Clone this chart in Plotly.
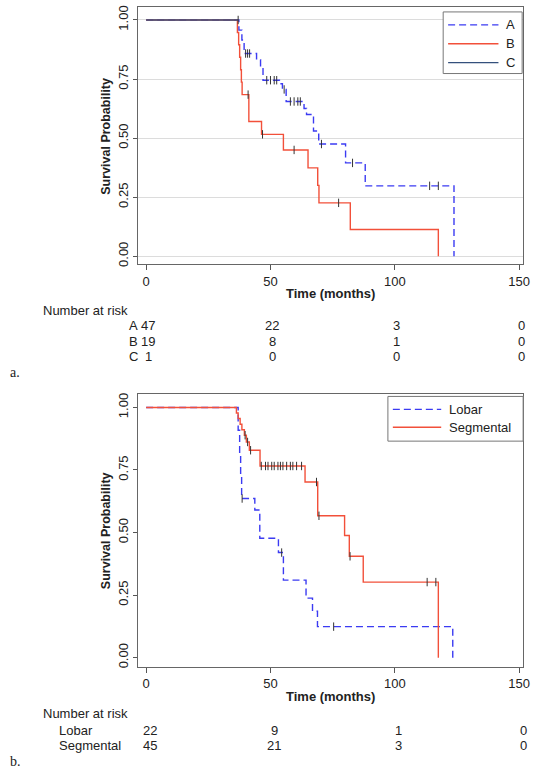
import numpy as np
import plotly.graph_objects as go

# ---------------- Panel a data ----------------
groups_a = ["A", "B", "C"]
a_times = [37.3, 38.5, 39.4, 44.4, 46.0, 47.0, 53.6, 54.8, 56.3, 63.5, 64.5, 67.3, 69.4, 80.2, 88.1, 123.8]
a_surv = [0.957, 0.915, 0.858, 0.832, 0.80, 0.745, 0.73, 0.706, 0.655, 0.625, 0.60, 0.53, 0.475, 0.395, 0.298, 0.0]
a_cens = [40.0, 40.8, 41.6, 48.5, 50.0, 51.5, 52.5, 55.5, 58.0, 59.5, 61.0, 62.0, 70.5, 83.0, 114.0, 117.5]

b_times = [36.7, 37.2, 37.6, 38.0, 38.3, 38.6, 41.3, 46.4, 55.2, 65.1, 69.0, 69.5, 82.1, 117.5]
b_surv = [0.947, 0.895, 0.842, 0.789, 0.737, 0.684, 0.57, 0.516, 0.45, 0.374, 0.30, 0.226, 0.113, 0.0]
b_cens = [41.0, 46.8, 59.5, 77.4]

c_times = []
c_surv = []
c_cens = [37.0]

risk_times = [0, 50, 100, 150]
risk_a = {"A": [47, 22, 3, 0], "B": [19, 8, 1, 0], "C": [1, 0, 0, 0]}

# ---------------- Panel b data ----------------
groups_b = ["Lobar", "Segmental"]
lob_times = [37.0, 37.6, 38.0, 38.4, 43.7, 45.7, 53.2, 55.2, 64.3, 66.9, 68.9, 123.3]
lob_surv = [0.909, 0.818, 0.727, 0.636, 0.59, 0.477, 0.42, 0.31, 0.238, 0.186, 0.124, 0.0]
lob_cens = [38.6, 54.5, 75.4]

seg_times = [36.3, 37.0, 37.8, 38.5, 39.5, 40.3, 41.5, 45.8, 63.9, 69.0, 79.8, 81.7, 87.3, 117.5]
seg_surv = [0.978, 0.956, 0.933, 0.911, 0.889, 0.862, 0.829, 0.766, 0.702, 0.567, 0.488, 0.405, 0.302, 0.0]
seg_cens = [39.8, 40.8, 42.0, 46.3, 48.0, 49.0, 50.5, 51.5, 53.0, 54.0, 55.0, 56.5, 58.0,
            59.0, 60.5, 62.5, 68.5, 69.5, 82.0, 113.0, 116.5]

risk_b = {"Lobar": [22, 9, 1, 0], "Segmental": [45, 21, 3, 0]}

# ---------------- styling ----------------
W, H = 540, 771
BLUE = "#3b3bf2"
RED = "#f2503a"
NAVY = "#34507c"
DASH = "7px,4px"
FONT = "Liberation Sans, Arial, sans-serif"
SERIF = "Liberation Serif, Times New Roman, serif"
TXT = "#222222"


def km_xy(times, surv, cens):
    x = [0.0] + list(times)
    y = [1.0] + list(surv)
    if cens and max(cens) > x[-1]:
        x.append(max(cens))
        y.append(y[-1])
    return x, y


def surv_at(times, surv, t):
    t = np.asarray(t, dtype=float)
    if len(times) == 0:
        return np.ones(len(t))
    t_arr = np.asarray(times, dtype=float)
    s_arr = np.asarray(surv, dtype=float)
    idx = np.searchsorted(t_arr, t, side="right") - 1
    return np.where(idx >= 0, s_arr[np.clip(idx, 0, None)], 1.0)


fig = go.Figure()
legend_items = {"a": [], "b": []}


def add_group(name, times, surv, cens, color, dash, xa, ya, panel):
    x, y = km_xy(times, surv, cens)
    fig.add_trace(go.Scatter(
        x=x, y=y, mode="lines", name=name, line_shape="hv", showlegend=False,
        line=dict(color=color, width=1.4, dash=dash), xaxis=xa, yaxis=ya))
    if cens:
        cy = surv_at(times, surv, cens)
        fig.add_trace(go.Scatter(
            x=cens, y=cy, mode="markers", showlegend=False, hoverinfo="skip",
            marker=dict(symbol="line-ns", size=6, line=dict(width=1, color="#333333")),
            xaxis=xa, yaxis=ya))
    legend_items[panel].append((name, color, dash))


add_group("A", a_times, a_surv, a_cens, BLUE, DASH, "x", "y", "a")
add_group("B", b_times, b_surv, b_cens, RED, "solid", "x", "y", "a")
add_group("C", c_times, c_surv, c_cens, NAVY, "solid", "x", "y", "a")
add_group("Lobar", lob_times, lob_surv, lob_cens, BLUE, DASH, "x2", "y2", "b")
add_group("Segmental", seg_times, seg_surv, seg_cens, RED, "solid", "x2", "y2", "b")


def px_x(p):
    return p / W


def px_y(p):
    return 1 - p / H


xdom = [px_x(140), px_x(530)]
common_x = dict(range=[-3.2, 151.6], tickvals=risk_times, ticks="outside", ticklen=5,
                tickcolor="#555555", showgrid=False, zeroline=False, showline=True,
                mirror=True, linecolor="#666666", linewidth=1,
                tickfont=dict(family=FONT, size=13, color=TXT))
common_y = dict(tickvals=[0, 0.25, 0.5, 0.75, 1.0],
                ticktext=["0.00", "0.25", "0.50", "0.75", "1.00"],
                tickangle=-90, ticks="outside", ticklen=4, tickcolor="#555555",
                zeroline=False, showline=True, mirror=True, linecolor="#666666",
                linewidth=1, tickfont=dict(family=FONT, size=13, color=TXT))

fig.update_layout(
    width=W, height=H, margin=dict(l=0, r=0, t=0, b=0),
    paper_bgcolor="white", plot_bgcolor="white", showlegend=False,
    font=dict(family=FONT, size=13, color=TXT),
    xaxis=dict(domain=xdom, anchor="y", **common_x),
    yaxis=dict(domain=[px_y(264), px_y(5)], anchor="x", range=[-0.034, 1.055],
               showgrid=True, gridcolor="#dcdcdc", gridwidth=1, **common_y),
    xaxis2=dict(domain=xdom, anchor="y2", **common_x),
    yaxis2=dict(domain=[px_y(669), px_y(395)], anchor="x2", range=[-0.036, 1.052],
                showgrid=False, **common_y),
)

ann = []
shapes = []


def text(x, y, s, xanchor="left", xref="paper", size=13, family=FONT, angle=0, xshift=0):
    ann.append(dict(x=x, y=y, xref=xref, yref="paper", text=s, showarrow=False,
                    xanchor=xanchor, yanchor="middle", textangle=angle, xshift=xshift,
                    font=dict(family=family, size=size, color=TXT)))


def legend_box(items, box, line_x, text_x, row_y):
    x0, y0, x1, y1 = box
    shapes.append(dict(type="rect", xref="paper", yref="paper",
                       x0=px_x(x0), x1=px_x(x1), y0=px_y(y1), y1=px_y(y0),
                       line=dict(color="#777777", width=1), fillcolor="white", layer="above"))
    for (name, color, dash), ry in zip(items, row_y):
        shapes.append(dict(type="line", xref="paper", yref="paper",
                           x0=px_x(line_x[0]), x1=px_x(line_x[1]), y0=px_y(ry), y1=px_y(ry),
                           line=dict(color=color, width=1.4, dash=dash), layer="above"))
        text(px_x(text_x), px_y(ry), name)


legend_box(legend_items["a"], (449, 10, 529, 72), (454, 505), 511, [23, 42, 61])
legend_box(legend_items["b"], (393, 397, 530, 442), (398, 447), 453, [410, 428])

# Axis titles
text(px_x(335), px_y(293), "<b>Time (months)</b>", xanchor="center")
text(px_x(335), px_y(699), "<b>Time (months)</b>", xanchor="center")
text(px_x(108), px_y(135), "<b>Survival Probability</b>", xanchor="center", angle=-90, size=12.5)
text(px_x(107), px_y(532), "<b>Survival Probability</b>", xanchor="center", angle=-90, size=12.5)

# Risk table a
text(px_x(42), px_y(311), "Number at risk")
row_y_a = [326, 342, 357]
for g, ry in zip(groups_a, row_y_a):
    text(px_x(142), px_y(ry), g, xanchor="right")
    for t, n in zip(risk_times, risk_a[g]):
        text(t, px_y(ry), str(n), xanchor="center", xref="x", xshift=2)
text(px_x(8), px_y(373), "a.", family=SERIF, size=14)

# Risk table b
text(px_x(42), px_y(716), "Number at risk")
row_y_b = [733, 748]
for g, ry in zip(groups_b, row_y_b):
    text(px_x(58), px_y(ry), g, xanchor="left")
    for t, n in zip(risk_times, risk_b[g]):
        text(t, px_y(ry), str(n), xanchor="center", xref="x2", xshift=4)
text(px_x(8), px_y(764), "b.", family=SERIF, size=14)

fig.update_layout(annotations=ann, shapes=shapes)

fig.write_html("out.html", config={"displayModeBar": False},
               post_script="document.body.style.margin='0';document.body.style.overflow='hidden';")
